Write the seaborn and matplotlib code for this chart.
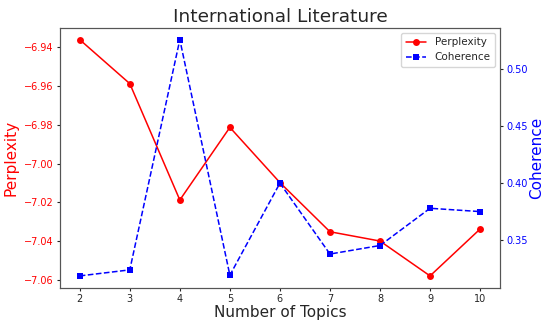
import numpy as np
import pandas as pd
import matplotlib
matplotlib.use("Agg")
import matplotlib.pyplot as plt
import seaborn as sns

sns.set_style("ticks")

# values
topics = [2, 3, 4, 5, 6, 7, 8, 9, 10]
perplexity = [-6.936, -6.9587, -7.0188, -6.9813, -7.0098, -7.0352, -7.0400, -7.0580, -7.0338]
coherence = [0.3185, 0.3238, 0.5260, 0.3191, 0.4000, 0.3377, 0.3452, 0.3779, 0.3750]

df = pd.DataFrame({"topics": topics, "perplexity": perplexity, "coherence": coherence})

fig, ax1 = plt.subplots(figsize=(5.43, 3.24), dpi=100)
fig.subplots_adjust(left=0.11, right=0.921, bottom=0.112, top=0.914)

sns.lineplot(data=df, x="topics", y="perplexity", ax=ax1, color="red",
             marker="o", markersize=5, markeredgewidth=0, linewidth=1.1,
             label="Perplexity", legend=False)
ax1.set_xlabel("Number of Topics", fontsize=11, labelpad=1)
ax1.set_ylabel("Perplexity", color="red", fontsize=11, labelpad=4)
ax1.tick_params(axis="y", labelcolor="red", labelsize=7, length=2.5, pad=2)
ax1.tick_params(axis="x", labelsize=7, length=2.5, pad=2)
ax1.set_xticks(topics)

ax2 = ax1.twinx()
sns.lineplot(data=df, x="topics", y="coherence", ax=ax2, color="blue",
             marker="s", markersize=5, markeredgewidth=0, linewidth=1.1,
             linestyle="--", label="Coherence", legend=False)
ax2.set_ylabel("Coherence", color="blue", fontsize=11, labelpad=1)
ax2.tick_params(axis="y", labelcolor="blue", labelsize=7, length=2.5, pad=2)
ax2.set_yticks([0.35, 0.40, 0.45, 0.50])

for a in (ax1, ax2):
    for s in a.spines.values():
        s.set_visible(True)
        s.set_color("#555555")

h1, l1 = ax1.get_legend_handles_labels()
h2, l2 = ax2.get_legend_handles_labels()
ax1.legend(h1 + h2, l1 + l2, loc="upper right", fontsize=7.5)

ax1.set_title("International Literature", fontsize=13.3, pad=4)

fig.savefig("out.png", dpi=100)
